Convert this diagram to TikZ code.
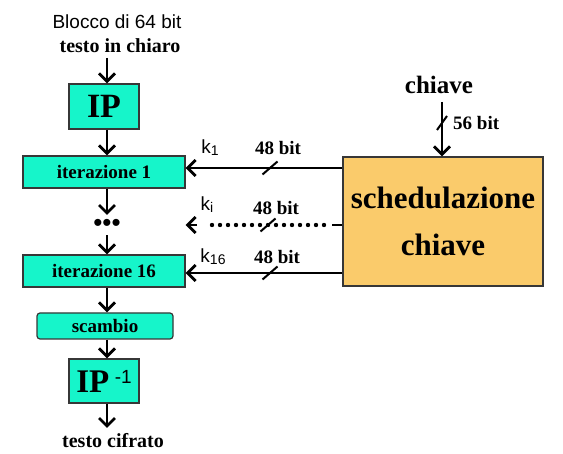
\documentclass[tikz,border=0pt]{standalone}
\usepackage{fontspec}
\setmainfont{Liberation Serif}
\setsansfont{Liberation Sans}
\usetikzlibrary{arrows.meta}
\definecolor{tealbox}{RGB}{22,245,202}
\definecolor{orngbox}{RGB}{250,203,107}
\definecolor{bord}{RGB}{55,55,55}
\newcommand{\ksub}[1]{\raisebox{-2pt}{\fontsize{14}{14}\selectfont #1}}
\begin{document}
\begin{tikzpicture}[x=1pt,y=-1pt,
  box/.style={draw=bord,line width=1.2pt,fill=tealbox,inner sep=0pt},
  arr/.style={line width=2.8pt,-{Straight Barb[length=8pt,width=16pt]}},
  plain/.style={line width=2.8pt},
  slash/.style={line width=2pt},
  dotln/.style={line width=4.4pt,line cap=round,dash pattern=on 0pt off 8pt},
  ser/.style={inner sep=0pt,font=\bfseries\fontsize{20}{22}\selectfont},
  lab/.style={inner sep=0pt,font=\bfseries\fontsize{19}{21}\selectfont},
  sans/.style={inner sep=0pt,font=\sffamily\fontsize{19}{21}\selectfont},
  ksty/.style={inner sep=0pt,font=\sffamily\fontsize{19}{20}\selectfont}]
\useasboundingbox (0,0) rectangle (563,454);

% left column
\node[sans] (blocco) at (117,22) {Blocco di 64 bit};
\node[ser] (chiaro) at (120,46) {testo in chiaro};
\node[box,minimum width=70pt,minimum height=45pt,font=\bfseries\fontsize{34}{34}\selectfont] (ip) at (104,106.5) {IP};
\node[box,minimum width=162pt,minimum height=32pt,font=\bfseries\fontsize{19}{21}\selectfont] (it1) at (104,172) {iterazione 1};
\node[inner sep=0pt,minimum height=20pt,font=\sffamily\fontsize{26}{26}\selectfont] (dots) at (107,225) {•••};
\node[box,minimum width=162pt,minimum height=32pt,font=\bfseries\fontsize{19}{21}\selectfont] (it16) at (104,271) {iterazione 16};
\node[box,rounded corners=3pt,minimum width=136pt,minimum height=26pt,font=\bfseries\fontsize{19}{21}\selectfont] (scambio) at (105,326) {scambio};
\node[box,minimum width=70pt,minimum height=44pt,font=\bfseries\fontsize{33}{33}\selectfont] (ipinv) at (104,381) {IP\,\raisebox{9pt}{\sffamily\mdseries\fontsize{19}{19}\selectfont -1}};
\node[ser] (cifr) at (113,441) {testo cifrato};

\coordinate (in) at (107,58);
\coordinate (out) at (107,428);
\draw[arr] (in) -- (in |- ip.north);
\draw[arr] ([xshift=3pt]ip.south) -- ([xshift=3pt]ip.south |- it1.north);
\draw[arr] ([xshift=3pt]it1.south) -- (107,215);
\draw[arr] (dots.south) -- (dots.south |- it16.north);
\draw[arr] ([xshift=3pt]it16.south) -- ([xshift=3pt]it16.south |- scambio.north);
\draw[arr] ([xshift=2pt]scambio.south) -- ([xshift=2pt]scambio.south |- ipinv.north);
\draw[arr] ([xshift=3pt]ipinv.south) -- (out);

% key schedule
\node[draw=bord,line width=1.2pt,fill=orngbox,minimum width=200pt,minimum height=129pt,inner sep=0pt,align=center,
      font=\bfseries\fontsize{31}{47}\selectfont] (sched) at (443,221.5) {schedulazione\\chiave};
\node[inner sep=0pt,font=\bfseries\fontsize{25}{27}\selectfont] (chtop) at (439,85) {chiave};
\draw[arr] ([xshift=3pt,yshift=-8pt]chtop.south) -- ([xshift=3pt]chtop.south |- sched.north);
\draw[slash] (437,130) -- (447,116);
\node[lab,anchor=west] (b56) at (453,123) {56 bit};

% subkeys
\draw[arr] (sched.west |- 0,168) -- (it1.east |- 0,168);
\draw[slash] (262.5,174.5) -- (277.5,161.5);
\node[lab] (b1) at (278,148) {48 bit};
\node[ksty] (k1) at (210,148) {k\ksub{1}};

\draw[plain] (sched.west |- 0,225) -- (332,225);
\draw[dotln] (324,225) -- (205,225);
\draw[arr] (197,225) -- (it1.east |- 0,225);
\draw[slash] (260.5,231.5) -- (275.5,218.5);
\node[lab] (bi) at (276,208) {48 bit};
\node[ksty] (ki) at (207,205) {k\ksub{i}};

\draw[arr] (sched.west |- 0,273) -- (it16.east |- 0,273);
\draw[slash] (262.5,279.5) -- (277.5,266.5);
\node[lab] (b16) at (277,257) {48 bit};
\node[ksty] (k16) at (213,257) {k\ksub{16}};
\end{tikzpicture}
\end{document}
